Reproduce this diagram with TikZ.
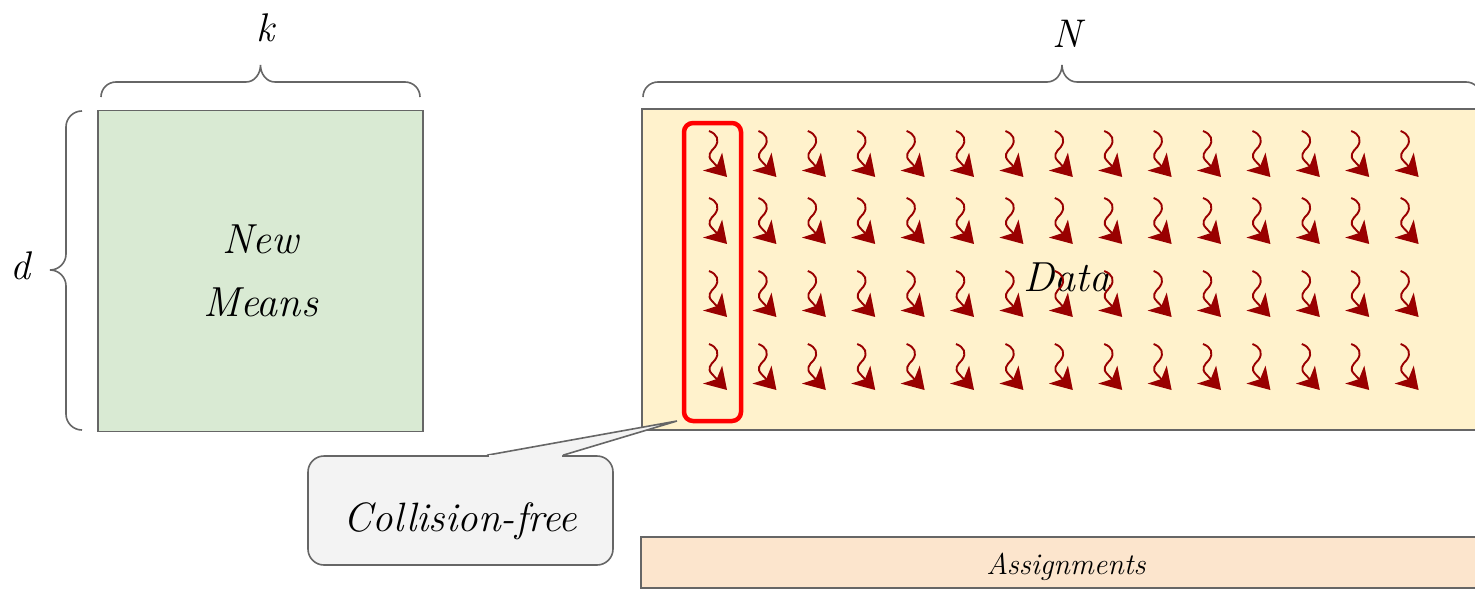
\documentclass[tikz,border=0pt]{standalone}
\usetikzlibrary{arrows.meta}
\definecolor{edgegray}{HTML}{666666}
\definecolor{meansgreen}{HTML}{D9EAD3}
\definecolor{datayellow}{HTML}{FFF2CC}
\definecolor{assignorange}{HTML}{FCE5CD}
\definecolor{calloutgray}{HTML}{F3F3F3}
\definecolor{flowred}{HTML}{990000}
\definecolor{brightred}{HTML}{FF0000}
\newcommand{\handfont}[2]{\fontsize{#1}{#2}\selectfont\itshape}
\begin{document}
\begin{tikzpicture}[x=1pt,y=-1pt,
  block/.style={draw=edgegray, line width=1.8pt, inner sep=0pt, outer sep=0pt},
  brace/.style={draw=edgegray, line width=1.6pt},
  dimlabel/.style={font=\handfont{40}{48}, inner sep=0pt},
  wavy/.style={draw=flowred, line width=1.9pt,
    -{Stealth[length=21pt, width=26pt, inset=6pt]}},
  column/.style={draw=brightred, line width=4.5pt, rounded corners=9pt, inner sep=0pt}]
\useasboundingbox (0,0) rectangle (1475,589);
\clip (0,0) rectangle (1475,589);

% matrices
\node[block, fill=meansgreen, minimum width=325pt, minimum height=321pt,
  align=center, font=\handfont{42}{63}] (means) at (260.5,271) {New\\Means};
\node[block, fill=datayellow, minimum width=850pt, minimum height=321pt,
  text height=44pt, text depth=0pt,
  font=\handfont{42}{50}] (data) at (1067,269.5) {Data};
\node[block, fill=assignorange, minimum width=850pt, minimum height=51pt,
  text height=24pt, text depth=0pt,
  font=\handfont{30}{36}] (assign) at (1066,562.5) {Assignments};

% dimension braces
\draw[brace] (101,97) to[out=90,in=180] (116,82) -- (246,82)
  to[out=0,in=-90] (260.5,65) to[out=-90,in=180] (275,82) -- (405,82)
  to[out=0,in=90] (420,97);
\node[dimlabel] (k) at (265,28) {k};

\draw[brace] (643,97) to[out=90,in=180] (658,82) -- (1047,82)
  to[out=0,in=-90] (1062,65) to[out=-90,in=180] (1077,82) -- (1466,82)
  to[out=0,in=90] (1481,97);
\node[dimlabel] (n) at (1067,34) {N};

\draw[brace] (82,111) to[out=180,in=90] (66,127) -- (66,254)
  to[out=-90,in=0] (50,270) to[out=0,in=90] (66,286) -- (66,414)
  to[out=-90,in=180] (82,430);
\node[dimlabel] (d) at (20,266) {d};

% per-thread flow arrows
\foreach \i in {0,...,14}{
  \foreach \y in {131,198,271,344}{
    \begin{scope}[shift={({709+49.4*\i},\y)}]
      \draw[wavy] (0,0) .. controls (8,3) and (11,9) .. (6,16)
        .. controls (1,21) and (-2,25) .. (3,30) -- (18,46);
    \end{scope}
  }
}

% highlighted column
\node[column, minimum width=57pt, minimum height=298pt] (col) at (712.5,272) {};
\coordinate (tip) at (677,421);

% callout
\node[draw=edgegray, line width=1.6pt, fill=calloutgray, rounded corners=16pt,
  minimum width=305pt, minimum height=109pt, inner sep=0pt,
  text height=42pt, text depth=0pt,
  font=\handfont{41}{48}] (note) at (460.5,510.5) {Collision-free};
\filldraw[draw=edgegray, fill=calloutgray, line width=1.6pt, line join=miter]
  (note.north -| 487,0) -- (tip) -- (note.north -| 563,0);
\fill[calloutgray] (488.5,454.5) rectangle (561.5,458);
\end{tikzpicture}
\end{document}
